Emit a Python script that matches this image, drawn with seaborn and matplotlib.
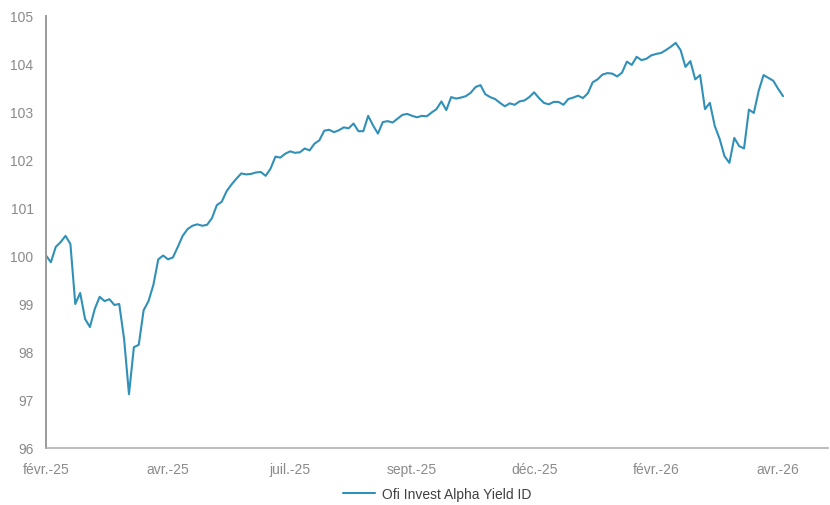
import matplotlib
matplotlib.use("Agg")
import matplotlib.pyplot as plt
import seaborn as sns
import numpy as np
import pandas as pd

series_name = "Ofi Invest Alpha Yield ID"
tick_labels = ["févr.-25", "avr.-25", "juil.-25", "sept.-25", "déc.-25", "févr.-26", "avr.-26"]
points_per_tick = 25

values = [
    100.01, 99.87, 100.19, 100.29, 100.42, 100.25, 99.00, 99.23, 98.69, 98.52,
    98.90, 99.15, 99.06, 99.10, 98.98, 99.00, 98.27, 97.12, 98.10, 98.15,
    98.87, 99.06, 99.40, 99.93, 100.01, 99.93, 99.97, 100.19, 100.42, 100.56,
    100.63, 100.66, 100.63, 100.65, 100.79, 101.06, 101.13, 101.35, 101.49, 101.61,
    101.72, 101.70, 101.71, 101.74, 101.75, 101.67, 101.82, 102.07, 102.05, 102.13,
    102.18, 102.15, 102.16, 102.24, 102.20, 102.34, 102.41, 102.61, 102.63, 102.58,
    102.62, 102.68, 102.66, 102.76, 102.60, 102.60, 102.92, 102.72, 102.55, 102.79,
    102.81, 102.78, 102.86, 102.94, 102.96, 102.92, 102.89, 102.92, 102.91, 102.99,
    103.06, 103.22, 103.04, 103.31, 103.28, 103.30, 103.33, 103.40, 103.52, 103.56,
    103.37, 103.31, 103.27, 103.19, 103.12, 103.18, 103.15, 103.22, 103.24, 103.31,
    103.41, 103.29, 103.19, 103.16, 103.21, 103.21, 103.15, 103.27, 103.30, 103.34,
    103.29, 103.39, 103.62, 103.68, 103.78, 103.81, 103.80, 103.74, 103.82, 104.05,
    103.98, 104.15, 104.08, 104.11, 104.18, 104.21, 104.23, 104.29, 104.36, 104.44,
    104.29, 103.94, 104.06, 103.68, 103.77, 103.06, 103.19, 102.71, 102.44, 102.08,
    101.94, 102.46, 102.29, 102.24, 103.05, 102.98, 103.44, 103.77, 103.71, 103.65,
    103.48, 103.33,
]

df = pd.DataFrame({"idx": np.arange(len(values)), "value": values, "series": series_name})

sns.set_style("white")
plt.rcParams["font.family"] = ["Liberation Sans", "DejaVu Sans"]

fig = plt.figure(figsize=(8.3, 5.06), dpi=100)
ax = fig.add_axes([46 / 830, 57 / 506, 782 / 830, 432 / 506])

line_color = "#3190B8"
sns.lineplot(data=df, x="idx", y="value", ax=ax, color=line_color, linewidth=1.5,
             label=series_name)

ax.set_ylim(96, 105)
ax.set_yticks(np.arange(96, 106, 1))
ax.set_xlim(0, 160.2)
ticks = [i * points_per_tick for i in range(len(tick_labels))]
ax.set_xticks(ticks)
ax.set_xticklabels(tick_labels)
ax.set_xlabel("")
ax.set_ylabel("")

for s in ["top", "right"]:
    ax.spines[s].set_visible(False)
ax.spines["left"].set_color("#9a9a9a")
ax.spines["left"].set_linewidth(1.4)
ax.spines["bottom"].set_color("#b0b0b0")
ax.spines["bottom"].set_linewidth(1.2)

ax.tick_params(axis="both", length=0, labelsize=10, colors="#8a8a8a")
ax.tick_params(axis="y", pad=9)
ax.tick_params(axis="x", pad=10)

leg = ax.legend(loc="center", bbox_to_anchor=(0.5, -0.106), frameon=False,
                fontsize=10, handlelength=2.3, handletextpad=0.5)
for t in leg.get_texts():
    t.set_color("#404040")

fig.savefig("out.png", dpi=100)
